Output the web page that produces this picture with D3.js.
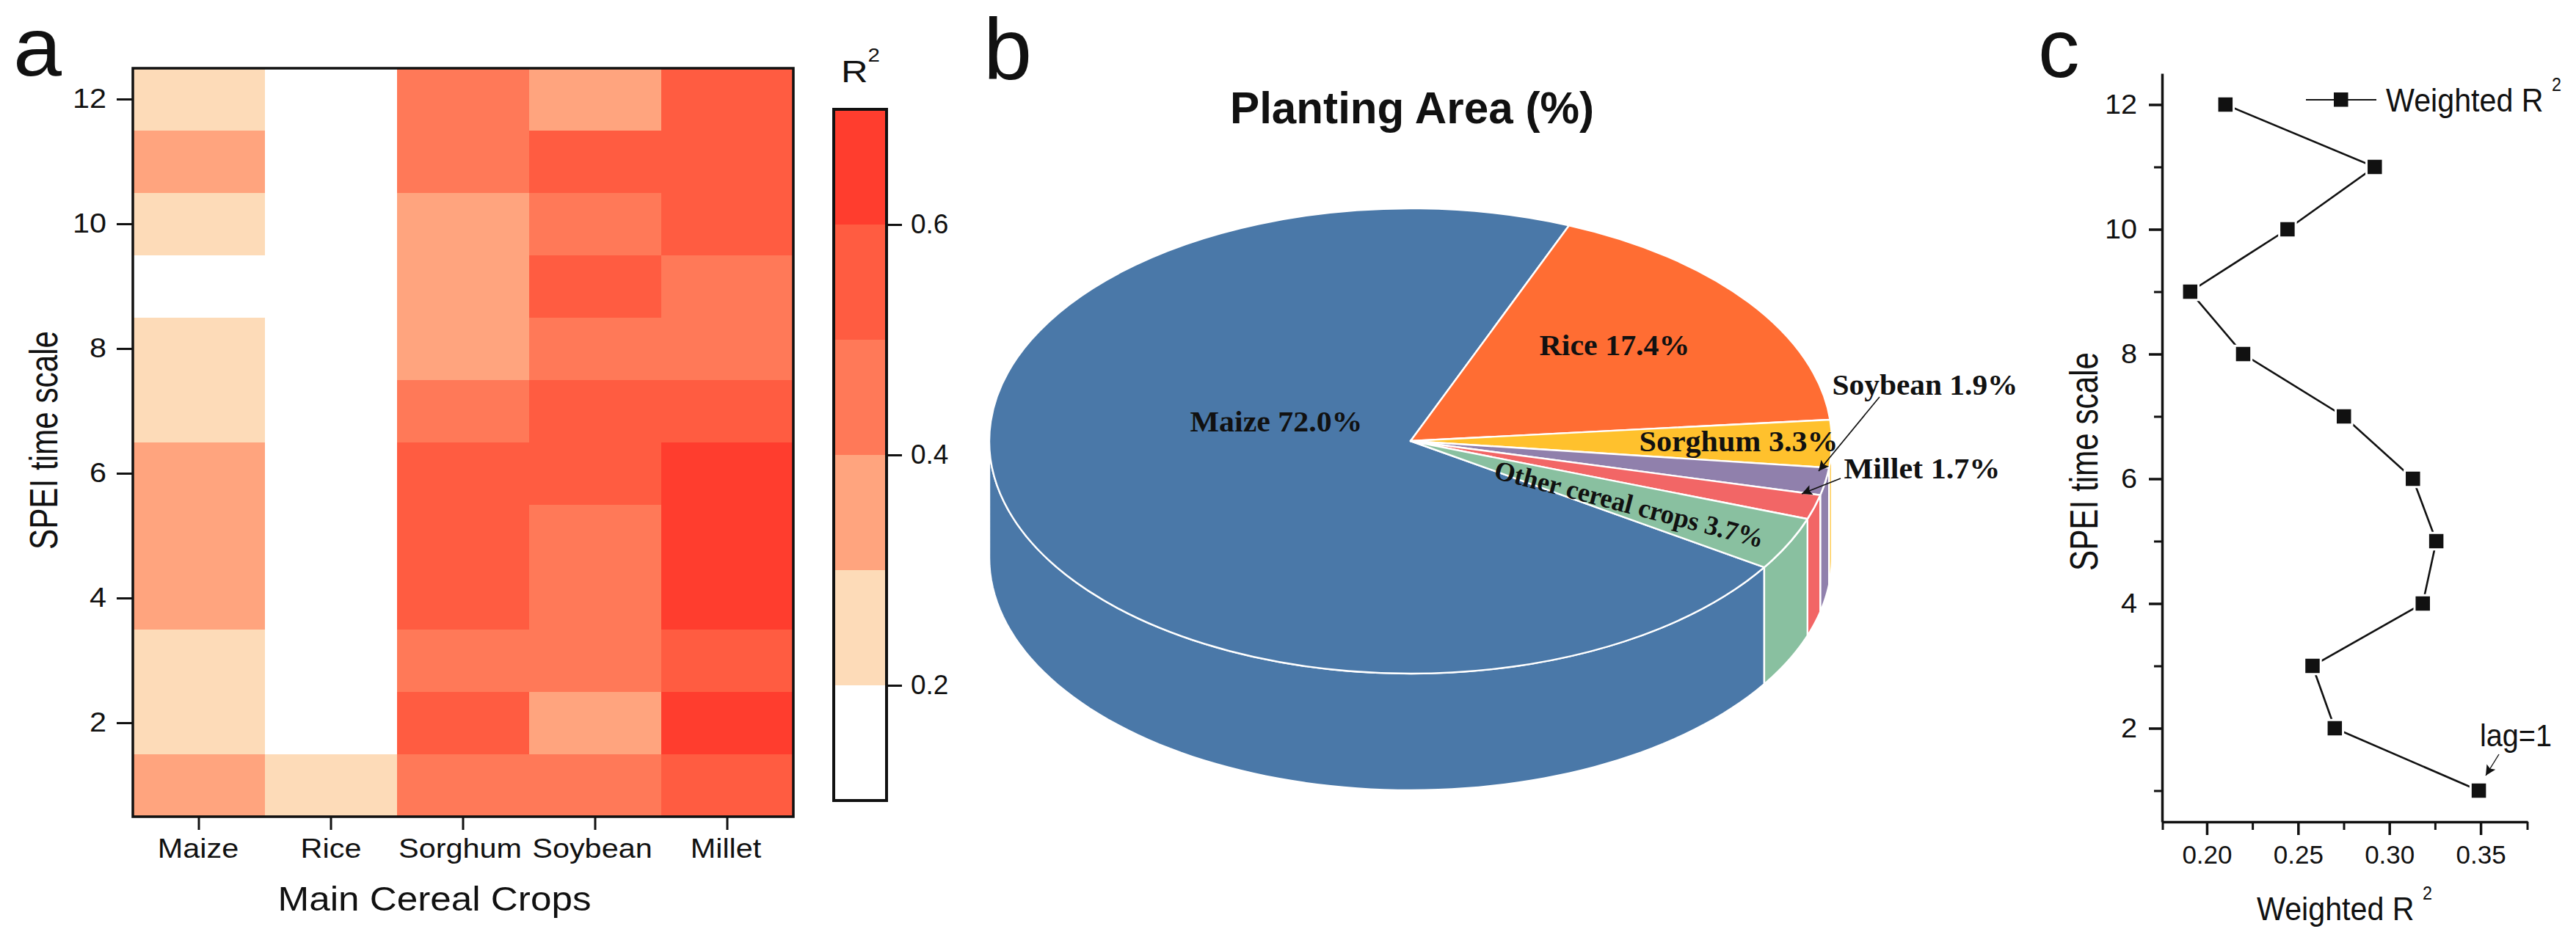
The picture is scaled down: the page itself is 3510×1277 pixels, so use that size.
<!DOCTYPE html>
<html><head><meta charset="utf-8">
<script src="https://cdn.jsdelivr.net/npm/d3@7"></script>
<style>
html,body{margin:0;padding:0;background:#fff}
svg{display:block}
text{font-family:"Liberation Sans",Arial,sans-serif;fill:#111}
.serif{font-family:"Liberation Serif","Times New Roman",serif;font-weight:700}
</style></head><body>
<svg id="c" width="3510" height="1277" viewBox="0 0 3510 1277"></svg>
<script>
// ---- data ----
const crops = ["Maize","Rice","Sorghum","Soybean","Millet"];
const scales = [1,2,3,4,5,6,7,8,9,10,11,12];
const maizeR2   = [0.35,0.25,0.25,0.35,0.35,0.35,0.25,0.25,0.15,0.25,0.35,0.25];
const riceR2    = [0.25,0.15,0.15,0.15,0.15,0.15,0.15,0.15,0.15,0.15,0.15,0.15];
const sorghumR2 = [0.45,0.55,0.45,0.55,0.55,0.55,0.45,0.35,0.35,0.35,0.45,0.45];
const soybeanR2 = [0.45,0.35,0.45,0.45,0.45,0.55,0.55,0.45,0.55,0.45,0.55,0.35];
const milletR2  = [0.55,0.65,0.55,0.65,0.65,0.65,0.55,0.45,0.45,0.55,0.55,0.55];
const heatSeries = [maizeR2,riceR2,sorghumR2,soybeanR2,milletR2];
const colorBreaks = [0.2,0.3,0.4,0.5,0.6];
const colorLevels = ["#ffffff","#fddbb8","#ffa47e","#ff7958","#ff5c41","#ff3d2e"];
const colorbarTicks = [0.2,0.4,0.6];
const pieNames  = ["Maize","Rice","Sorghum","Soybean","Millet","Other cereal crops"];
const pieValues = [72.0,17.4,3.3,1.9,1.7,3.7];
const pieColors = ["#4a78a8","#ff6d33","#ffc12d","#9080ac","#f26666","#89c0a0"];
const weightedR2 = [0.349,0.2701,0.2579,0.3183,0.3257,0.3129,0.2751,0.2199,0.1909,0.2442,0.292,0.2102];

const svg = d3.select("#c");
const defs = svg.append("defs");
defs.append("marker").attr("id","arr").attr("viewBox","0 0 10 10").attr("refX",10).attr("refY",5)
  .attr("markerUnits","userSpaceOnUse").attr("markerWidth",22).attr("markerHeight",14).attr("orient","auto")
  .append("path").attr("d","M0,0L10,5L0,10L2,5Z").attr("fill","#111");

function label(x,y,str,size,opt={}){
  const t = svg.append("text").attr("x",x).attr("y",y).attr("font-size",size)
    .attr("text-anchor",opt.anchor||"middle").text(str);
  if(!opt.base) t.attr("dominant-baseline","central");
  if(opt.len) t.attr("textLength",opt.len).attr("lengthAdjust","spacingAndGlyphs");
  if(opt.rot!==undefined) t.attr("transform",`rotate(${opt.rot} ${x} ${y})`);
  if(opt.cls) t.attr("class",opt.cls);
  return t;
}
function styleAxis(g,w){
  g.selectAll("path").attr("stroke","#111").attr("stroke-width",w);
  g.selectAll("line").attr("stroke","#111").attr("stroke-width",w);
}
function styleTicks(g,size,factor){
  g.selectAll("text").attr("font-size",size).attr("fill","#111").attr("font-family","Liberation Sans")
    .each(function(){
      if(factor){ const L=this.getComputedTextLength();
        d3.select(this).attr("textLength",L*factor).attr("lengthAdjust","spacingAndGlyphs"); }
    });
}

// ---- panel a ----
const A = {l:181,r:1081,t:93,b:1113};
const xA = d3.scaleBand().domain(crops).range([A.l,A.r]);
const yA = d3.scaleBand().domain(scales).range([A.b,A.t]);
const color = d3.scaleThreshold().domain(colorBreaks).range(colorLevels);
crops.forEach((c,i)=>{
  svg.append("g").selectAll("rect").data(heatSeries[i]).join("rect")
    .attr("x",xA(c)).attr("width",xA.bandwidth())
    .attr("y",(d,j)=>yA(scales[j])).attr("height",yA.bandwidth())
    .attr("fill",d=>color(d)).attr("shape-rendering","crispEdges");
});
svg.append("rect").attr("x",A.l).attr("y",A.t).attr("width",A.r-A.l).attr("height",A.b-A.t)
  .attr("fill","none").attr("stroke","#111").attr("stroke-width",3.5);
const axAx = svg.append("g").attr("transform",`translate(0,${A.b})`)
  .call(d3.axisBottom(xA).tickSize(18).tickPadding(12).tickSizeOuter(0));
axAx.select(".domain").remove(); styleAxis(axAx,3);
styleTicks(axAx,36,1.15);
const xLabelNudge=[-1,0,-4,-4,-2];
axAx.selectAll("text").attr("dx",(d,i)=>xLabelNudge[i]);
const ayA = svg.append("g").attr("transform",`translate(${A.l},0)`)
  .call(d3.axisLeft(yA).tickValues(scales.filter(d=>d%2===0)).tickSize(22).tickPadding(14).tickSizeOuter(0));
ayA.select(".domain").remove(); styleAxis(ayA,3);
styleTicks(ayA,36,1.15);
label(592,1224,"Main Cereal Crops",47,{len:427});
label(59,600,"SPEI time scale",54,{len:298,rot:-90});
label(18,103,"a",113,{anchor:"start",base:true,len:66});

// colorbar
const CB = {l:1136,r:1208,t:149,b:1091};
const yCB = d3.scaleLinear().domain([0.1,0.7]).range([CB.b,CB.t]);
const cbEdges = [0.1,...colorBreaks,0.7];
svg.append("g").selectAll("rect").data(colorLevels).join("rect")
  .attr("x",CB.l).attr("width",CB.r-CB.l)
  .attr("y",(d,i)=>yCB(cbEdges[i+1])).attr("height",(d,i)=>yCB(cbEdges[i])-yCB(cbEdges[i+1]))
  .attr("fill",d=>d).attr("shape-rendering","crispEdges");
svg.append("rect").attr("x",CB.l).attr("y",CB.t).attr("width",CB.r-CB.l).attr("height",CB.b-CB.t)
  .attr("fill","none").attr("stroke","#111").attr("stroke-width",4);
const acb = svg.append("g").attr("transform",`translate(${CB.r},0)`)
  .call(d3.axisRight(yCB).tickValues(colorbarTicks).tickFormat(d3.format(".1f")).tickSize(21).tickPadding(12).tickSizeOuter(0));
acb.select(".domain").remove(); styleAxis(acb,3);
styleTicks(acb,37);
const rt = label(1146,97,"R",43,{anchor:"start",len:53});
rt.append("tspan").attr("dy",-22).attr("font-size",25).text("2");

// ---- panel b ----
const P = {cx:1922,cy:601,rx:574,ry:317,depth:159};
const TAU = Math.PI*2;
const pieGen = d3.pie().sort(null).startAngle(122.9*Math.PI/180).endAngle((122.9+360)*Math.PI/180);
const arcs = pieGen(pieValues);
const arcGen = d3.arc().innerRadius(0).outerRadius(P.rx);
const wallLine = d3.line();
const ptAt = (a,dz)=>[P.cx+P.rx*Math.sin(a), P.cy-P.ry*Math.cos(a)+dz];
const gWall = svg.append("g");
arcs.forEach((d,i)=>{
  // the pie wraps past one full turn; the visible wall is the front half in either turn
  [[Math.PI/2,Math.PI*3/2],[Math.PI/2+TAU,Math.PI*3/2+TAU]].forEach(([s,e])=>{
    const a0=Math.max(d.startAngle,s), a1=Math.min(d.endAngle,e);
    if(a1<=a0) return;
    const steps=d3.range(0,81).map(k=>a0+(a1-a0)*k/80);
    const pts=[...steps.map(a=>ptAt(a,0)),...steps.slice().reverse().map(a=>ptAt(a,P.depth))];
    gWall.append("path").attr("d",wallLine(pts)+"Z").attr("fill",pieColors[i])
      .attr("stroke","#fff").attr("stroke-width",2.4).attr("stroke-linejoin","round");
  });
});
const gTop = svg.append("g").attr("transform",`translate(${P.cx},${P.cy}) scale(1,${P.ry/P.rx})`);
gTop.selectAll("path").data(arcs).join("path").attr("d",arcGen)
  .attr("fill",(d,i)=>pieColors[i]).attr("stroke","#fff").attr("stroke-width",2.4)
  .attr("vector-effect","non-scaling-stroke").attr("stroke-linejoin","round");

const pct = v=>v.toFixed(1)+"%";
const pl = (i)=>`${pieNames[i]} ${pct(pieValues[i])}`;
label(1739,574,pl(0),40,{cls:"serif",len:235});
label(2200,470,pl(1),40,{cls:"serif",len:205});
label(2369,601,pl(2),40,{cls:"serif",len:271});
label(2623,524,pl(3),40,{cls:"serif",len:253});
label(2619,638,pl(4),40,{cls:"serif",len:213});
label(2220,687,pl(5),37,{cls:"serif",len:378,rot:14.6});
label(1924,147,"Planting Area (%)",61,{len:496}).attr("font-weight",700);
label(1340,108,"b",119,{anchor:"start",base:true});
const arrow=(x1,y1,x2,y2,w)=>svg.append("line").attr("x1",x1).attr("y1",y1).attr("x2",x2).attr("y2",y2)
  .attr("stroke","#111").attr("stroke-width",w).attr("marker-end","url(#arr)");
arrow(2561,541,2478,642,1.6);
arrow(2508,652,2455,673,1.6);

// ---- panel c ----
const C = {l:2946,r:3444,t:100,b:1120};
const xC = d3.scaleLinear().domain([0.1755,0.3757]).range([C.l,C.r]);
const yC = d3.scaleLinear().domain([0.5,12.5]).range([C.b,C.t]);
const xMajor=[0.20,0.25,0.30,0.35], xMinor=[0.1757,0.225,0.275,0.325,0.3755];
const yMajor=scales.filter(d=>d%2===0), yMinor=scales.filter(d=>d%2===1);
const axCm = svg.append("g").attr("transform",`translate(0,${C.b})`)
  .call(d3.axisBottom(xC).tickValues(xMinor).tickSize(11).tickFormat("").tickSizeOuter(0));
axCm.select(".domain").remove(); styleAxis(axCm,3);
const axC = svg.append("g").attr("transform",`translate(0,${C.b})`)
  .call(d3.axisBottom(xC).tickValues(xMajor).tickFormat(d3.format(".2f")).tickSize(18).tickPadding(14).tickSizeOuter(0));
styleAxis(axC,3.5);
styleTicks(axC,35);
const ayCm = svg.append("g").attr("transform",`translate(${C.l},0)`)
  .call(d3.axisLeft(yC).tickValues(yMinor).tickSize(11).tickFormat("").tickSizeOuter(0));
ayCm.select(".domain").remove(); styleAxis(ayCm,3);
const ayC = svg.append("g").attr("transform",`translate(${C.l},0)`)
  .call(d3.axisLeft(yC).tickValues(yMajor).tickSize(18).tickPadding(16).tickSizeOuter(0));
styleAxis(ayC,3.5);
styleTicks(ayC,36,1.1);

const lineC = d3.line().x(d=>xC(d)).y((d,i)=>yC(scales[i]));
svg.append("path").attr("d",lineC(weightedR2)).attr("fill","none").attr("stroke","#111").attr("stroke-width",2.6);
const sq=19.5;
svg.append("g").selectAll("rect").data(weightedR2).join("rect")
  .attr("x",d=>xC(d)-sq/2).attr("y",(d,i)=>yC(scales[i])-sq/2).attr("width",sq).attr("height",sq)
  .attr("fill","#111").attr("stroke","#fff").attr("stroke-width",6).attr("paint-order","stroke");
// legend
svg.append("line").attr("x1",3142).attr("x2",3238).attr("y1",136).attr("y2",136).attr("stroke","#111").attr("stroke-width",2.2);
svg.append("rect").attr("x",3180).attr("y",126).attr("width",19.5).attr("height",19.5).attr("fill","#111");
const lg=label(3251,136,"Weighted R ",44,{anchor:"start",len:239});
lg.append("tspan").attr("dy",-21).attr("font-size",25).text("2");
const xl=label(3075,1238,"Weighted R ",44,{anchor:"start",len:239});
xl.append("tspan").attr("dy",-21).attr("font-size",25).text("2");
label(2839,629,"SPEI time scale",54,{len:298,rot:-90});
label(3428,1002,"lag=1",42,{len:98});
arrow(3405,1028,3387,1057,1.4);
label(2777,105,"c",113,{anchor:"start",base:true});
</script></body></html>
